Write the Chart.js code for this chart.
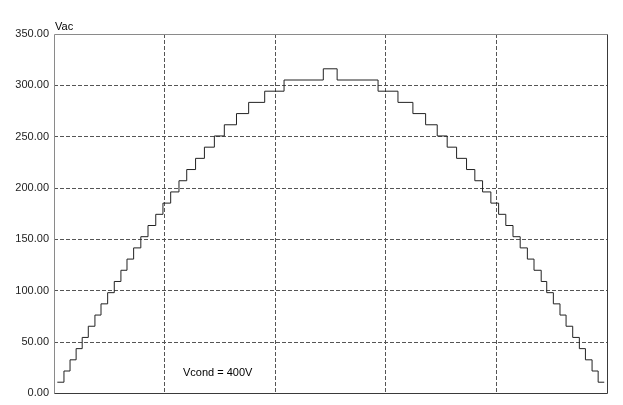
<!DOCTYPE html>
<html>
<head>
<meta charset="utf-8">
<script src="https://cdn.jsdelivr.net/npm/chart.js@4/dist/chart.umd.min.js"></script>
<style>
  html, body { margin: 0; padding: 0; background: #fff; }
</style>
</head>
<body>
<canvas id="myChart" width="623" height="405"></canvas>
<script>
// 立ち上がり側：各段の開始時刻 (ms) と電圧 (V)
const riseTimes = [0.06, 0.18, 0.29, 0.40, 0.51, 0.62, 0.74, 0.85, 0.97, 1.09,
                   1.21, 1.32, 1.44, 1.57, 1.70, 1.84, 1.97, 2.11, 2.26, 2.40,
                   2.56, 2.72, 2.90, 3.08, 3.30, 3.52, 3.81, 4.16, 4.87];
const riseLevels = [10.9, 21.8, 32.7, 43.6, 54.5, 65.4, 76.3, 87.2, 98.1, 109.0,
                    119.9, 130.8, 141.7, 152.6, 163.5, 174.4, 185.3, 196.2, 207.1, 218.0,
                    228.9, 239.8, 250.7, 261.6, 272.5, 283.4, 294.3, 305.2, 316.1];

// 立ち下がり側
const fallTimes = [5.12, 5.86, 6.22, 6.49, 6.72, 6.93, 7.11, 7.28, 7.46, 7.61,
                   7.75, 7.90, 8.04, 8.17, 8.30, 8.43, 8.56, 8.68, 8.81, 8.91,
                   9.03, 9.15, 9.26, 9.38, 9.50, 9.61, 9.73, 9.84];
const fallLevels = [305.2, 294.3, 283.4, 272.5, 261.6, 250.7, 239.8, 228.9, 218.0, 207.1,
                    196.2, 185.3, 174.4, 163.5, 152.6, 141.7, 130.8, 119.9, 109.0, 98.1,
                    87.2, 76.3, 65.4, 54.5, 43.6, 32.7, 21.8, 10.9];
const endTime = 9.95;

const yTicks = [0, 50, 100, 150, 200, 250, 300, 350];
const xRange = [0, 10];

const FONT = "'Liberation Sans', Arial, sans-serif";

// 段階波形の点列（各点 = その段の開始）
const points = [];
riseTimes.forEach((t, i) => points.push({ x: t, y: riseLevels[i] }));
fallTimes.forEach((t, i) => points.push({ x: t, y: fallLevels[i] }));
points.push({ x: endTime, y: fallLevels[fallLevels.length - 1] });

// 枠線とテキスト
const framePlugin = {
    id: 'frame',
    afterDatasetsDraw(chart) {
        const { ctx, chartArea: a } = chart;
        const l = Math.round(a.left) + 0.5, r = Math.round(a.right) + 0.5;
        const t = Math.round(a.top) + 0.5, b = Math.round(a.bottom) + 0.5;
        ctx.save();
        ctx.lineWidth = 1;
        ctx.strokeStyle = '#8a8a8a';
        ctx.beginPath();
        ctx.moveTo(l, b); ctx.lineTo(l, t); ctx.lineTo(r, t);
        ctx.stroke();
        ctx.strokeStyle = '#3a3a3a';
        ctx.beginPath();
        ctx.moveTo(r, t); ctx.lineTo(r, b); ctx.lineTo(l, b);
        ctx.stroke();

        ctx.fillStyle = '#000';
        ctx.font = '11px ' + FONT;
        ctx.textAlign = 'left';
        ctx.textBaseline = 'alphabetic';
        ctx.fillText('Vac', 55, 30);
        ctx.fillText('Vcond = 400V', 183, 376);
        ctx.restore();
    }
};

const isEdge = (v, range) => v === range[0] || v === range[1];

const config = {
    type: 'line',
    data: {
        datasets: [{
            data: points,
            stepped: 'before',
            borderColor: '#222',
            borderWidth: 1,
            pointRadius: 0,
            fill: false
        }]
    },
    options: {
        responsive: false,
        animation: false,
        layout: { padding: { top: 34, right: 16, bottom: 6, left: 0 } },
        plugins: { legend: { display: false }, tooltip: { enabled: false } },
        scales: {
            x: {
                type: 'linear',
                min: xRange[0],
                max: xRange[1],
                ticks: { display: false, stepSize: 2 },
                grid: {
                    drawTicks: false,
                    lineWidth: 1,
                    color: (c) => isEdge(c.tick.value, xRange) ? 'rgba(0,0,0,0)' : '#555'
                },
                border: { display: false, dash: [4, 2] },
                afterFit: (s) => { s.height = 0; }
            },
            y: {
                min: yTicks[0],
                max: yTicks[yTicks.length - 1],
                afterBuildTicks: (s) => { s.ticks = yTicks.map(v => ({ value: v })); },
                ticks: {
                    padding: 5,
                    color: '#222',
                    font: { family: FONT, size: 11 },
                    callback: (v) => Number(v).toFixed(2)
                },
                grid: {
                    drawTicks: false,
                    lineWidth: 1,
                    color: (c) => isEdge(c.tick.value, [yTicks[0], yTicks[yTicks.length - 1]]) ? 'rgba(0,0,0,0)' : '#555'
                },
                border: { display: false, dash: [4, 2] },
                afterFit: (s) => { s.width = 54; }
            }
        }
    },
    plugins: [framePlugin]
};

new Chart(document.getElementById('myChart').getContext('2d'), config);
</script>
</body>
</html>
